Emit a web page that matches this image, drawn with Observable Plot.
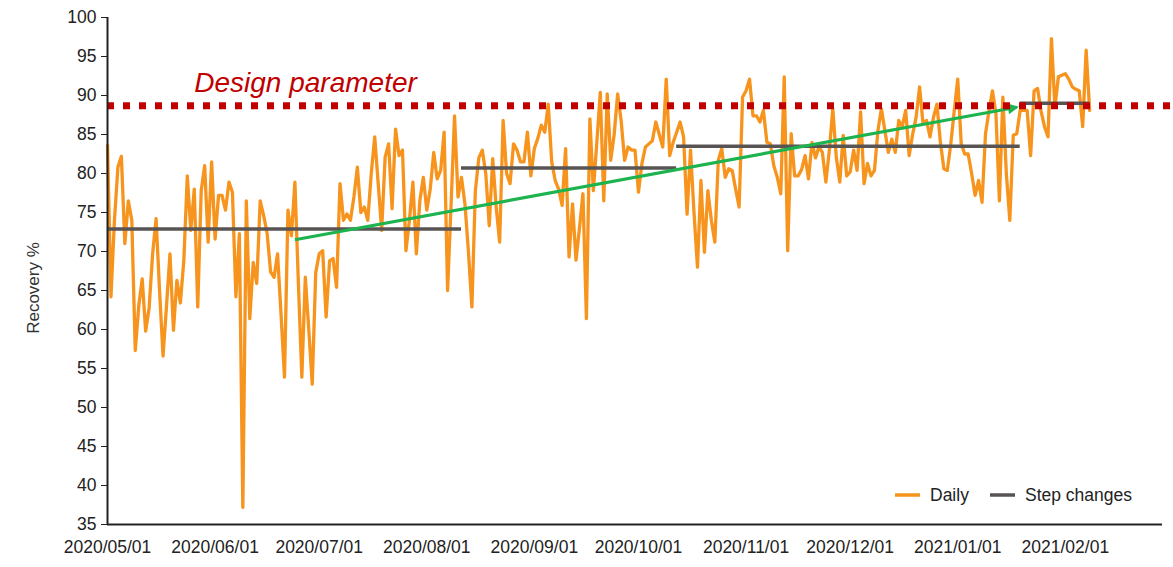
<!DOCTYPE html>
<html><head><meta charset="utf-8">
<script src="https://cdn.jsdelivr.net/npm/d3@7"></script>
<script src="https://cdn.jsdelivr.net/npm/@observablehq/plot@0.6"></script>
<style>
body{margin:0;background:#fff;}
#chart svg{display:block;}
</style>
</head><body><div id="chart"></div>
<script>
// ---- data ----
const firstDay = "2020-05-01";
const dailyValues = [
83.6,64.2,74,80.8,82.2,71,76.5,74,57.3,63,
66.5,59.8,62.8,69.7,74.2,65,56.6,63,69.7,59.9,
66.3,63.4,68.9,79.7,72.7,78,62.9,77.8,81,71.2,
81.5,71.6,77.2,77.2,75.3,78.9,77.6,64.2,72.3,37.2,
76.5,61.4,68.6,65.9,76.5,74.6,72.3,67.4,66.7,69.7,
62,53.9,75.3,72,78.9,66,53.9,66.7,60,53,
67.3,69.7,70.1,61.6,68.8,69.1,65.4,78.7,74,74.8,
74,77,80.8,75,75.7,74,80,84.7,78.7,72.7,
82.1,83.8,75.5,85.7,82.3,83,70.1,74,78.9,69.7,
76.5,79.5,75.3,78,82.7,79.3,80.4,85.3,65,76,
87.4,77,79.5,76.1,70,62.9,77.8,82,83,80,
73.3,81.9,75.7,71.2,86.8,80,78.7,83.8,83,81.5,
81.5,85.3,79.7,83.2,84.5,86.2,85.3,88.9,81.5,79.1,
78,75.9,83.2,69.3,76.1,68.9,73,77.4,61.4,87,
77.8,84,90.4,76.5,90.2,81.7,85,90.2,86.8,81.7,
83.4,83,83,77.6,81.3,83.4,83.8,84.2,86.6,85,
83.4,92.1,82.3,84,85.3,86.6,84.7,74.8,83,75,
68,79.1,69.9,77.8,74,71.2,81.7,83.2,79.5,80.6,
80.4,78,75.7,89.8,90.6,92.1,87.4,87.4,86.6,88.1,
84,83.8,81,79.5,77.4,92.4,70.1,85.1,79.7,79.7,
80.5,82.3,79.3,84,82,83.4,82.7,78.9,83,88.3,
82.1,78.9,84.9,79.7,80.2,83,80.4,87.9,78.7,81.3,
79.7,80.4,85.5,88.3,85.5,82.7,84.4,82.7,86.8,86,
88.1,82.3,85,87.2,91.1,86.4,86.8,84.7,87.2,88.9,
84,80.6,80.4,83.8,88.1,92.1,83.8,82.5,82.5,80,
77.2,79.1,76.3,85.1,88,90.6,87.7,76.5,89.8,80,
74,84.9,85.1,88.1,88.1,88.1,82.3,90.6,90.9,88,
86,84.7,97.3,88.5,92.4,92.6,92.8,92.1,91.1,90.8,
90.6,86,95.8,88.1
];
const stepStarts = ["2020-05-01","2020-08-11","2020-10-12","2021-01-19"];
const stepEnds   = ["2020-08-11","2020-10-12","2021-01-19","2021-02-08"];
const stepValues = [72.9, 80.7, 83.5, 89.0];
const trendDates  = ["2020-06-24","2021-01-18"];
const trendValues = [71.5, 88.5];
const designValue = 88.7;
const designLabel = "Design parameter";
const designLabelDate = "2020-05-26";
const designLabelValue = 90.4;
const xDomain = ["2020-05-01","2021-03-01"];
const yTicks = [35,40,45,50,55,60,65,70,75,80,85,90,95,100];
const xTickDates = ["2020-05-01","2020-06-01","2020-07-01","2020-08-01","2020-09-01","2020-10-01",
                    "2020-11-01","2020-12-01","2021-01-01","2021-02-01"];
const yLabel = "Recovery %";
const legendItems = ["Daily","Step changes"];

// ---- build ----
const C_ORANGE = "#f7941d", C_GRAY = "#595454", C_GREEN = "#1db34f", C_RED = "#c00000";
const d0 = new Date(firstDay);
const daily = dailyValues.map((v,i) => ({date: new Date(d0.getTime() + i*864e5), value: v}));
const steps = stepValues.map((v,i) => ({x1: new Date(stepStarts[i]), x2: new Date(stepEnds[i]), y: v}));
const trend = [{x1: new Date(trendDates[0]), y1: trendValues[0], x2: new Date(trendDates[1]), y2: trendValues[1]}];
const font = "'Liberation Sans', Arial, sans-serif";

const plot = Plot.plot({
  width: 1173, height: 567,
  marginLeft: 107, marginRight: 11, marginTop: 17, marginBottom: 43,
  style: {fontFamily: font, fontSize: "17.5px", color: "#222", background: "#fff"},
  x: {type: "utc", domain: xDomain.map(d => new Date(d))},
  y: {domain: [35, 100]},
  marks: [
    Plot.axisY({ticks: yTicks, tickSize: 6, tickPadding: 5, fontSize: 17.5, label: null}),
    Plot.axisX({ticks: xTickDates.map(d => new Date(d)), tickSize: 0, tickPadding: 16, fontSize: 17.5,
                tickFormat: d3.utcFormat("%Y/%m/%d"), label: null}),
    Plot.line(daily, {x: "date", y: "value", stroke: C_ORANGE, strokeWidth: 3.3, strokeLinejoin: "round"}),
    Plot.ruleY(steps, {x1: "x1", x2: "x2", y: "y", stroke: C_GRAY, strokeWidth: 3.5}),
    Plot.link(trend, {x1: "x1", y1: "y1", x2: "x2", y2: "y2", stroke: C_GREEN, strokeWidth: 3.2, className: "trend"}),
    Plot.ruleY([designValue], {x1: new Date(xDomain[0]), x2: new Date("2021-03-05"), stroke: C_RED, strokeWidth: 7, strokeDasharray: "7,9", clip: false}),
    Plot.text([designLabel], {x: new Date(designLabelDate), y: designLabelValue, text: d => d, textAnchor: "start",
               lineAnchor: "bottom", fill: C_RED, fontSize: 28, fontStyle: "italic"}),
    Plot.ruleY([35], {stroke: "#222", strokeWidth: 2}),
    Plot.ruleX([new Date(xDomain[0])], {stroke: "#222", strokeWidth: 2})
  ]
});
document.getElementById("chart").appendChild(plot);

const svg = d3.select(plot);
// filled arrowhead for the trend line
svg.append("defs").append("marker")
  .attr("id", "trendHead").attr("viewBox", "0 0 10 10").attr("refX", 8).attr("refY", 5)
  .attr("markerUnits", "userSpaceOnUse").attr("markerWidth", 13).attr("markerHeight", 11)
  .attr("orient", "auto")
  .append("path").attr("d", "M0,0L10,5L0,10z").attr("fill", C_GREEN);
svg.selectAll("g.trend path, g.trend line").attr("marker-end", "url(#trendHead)");

// y axis title
svg.append("text").attr("transform", "translate(33,288) rotate(-90)")
  .attr("text-anchor", "middle").attr("dy", "0.35em")
  .attr("font-family", font).attr("font-size", 17).attr("fill", "#333").text(yLabel);

// legend inside the plot area (bottom right)
const lg = svg.append("g").attr("font-family", font).attr("font-size", 17.5).attr("fill", "#222").attr("text-anchor", "start");
const items = [{label: legendItems[0], color: C_ORANGE, x: 895}, {label: legendItems[1], color: C_GRAY, x: 990}];
for (const it of items) {
  lg.append("line").attr("x1", it.x).attr("x2", it.x + 25).attr("y1", 495).attr("y2", 495)
    .attr("stroke", it.color).attr("stroke-width", 3.5);
  lg.append("text").attr("x", it.x + 35).attr("y", 495).attr("dy", "0.35em").attr("text-anchor", "start").text(it.label);
}
</script>
</body></html>
